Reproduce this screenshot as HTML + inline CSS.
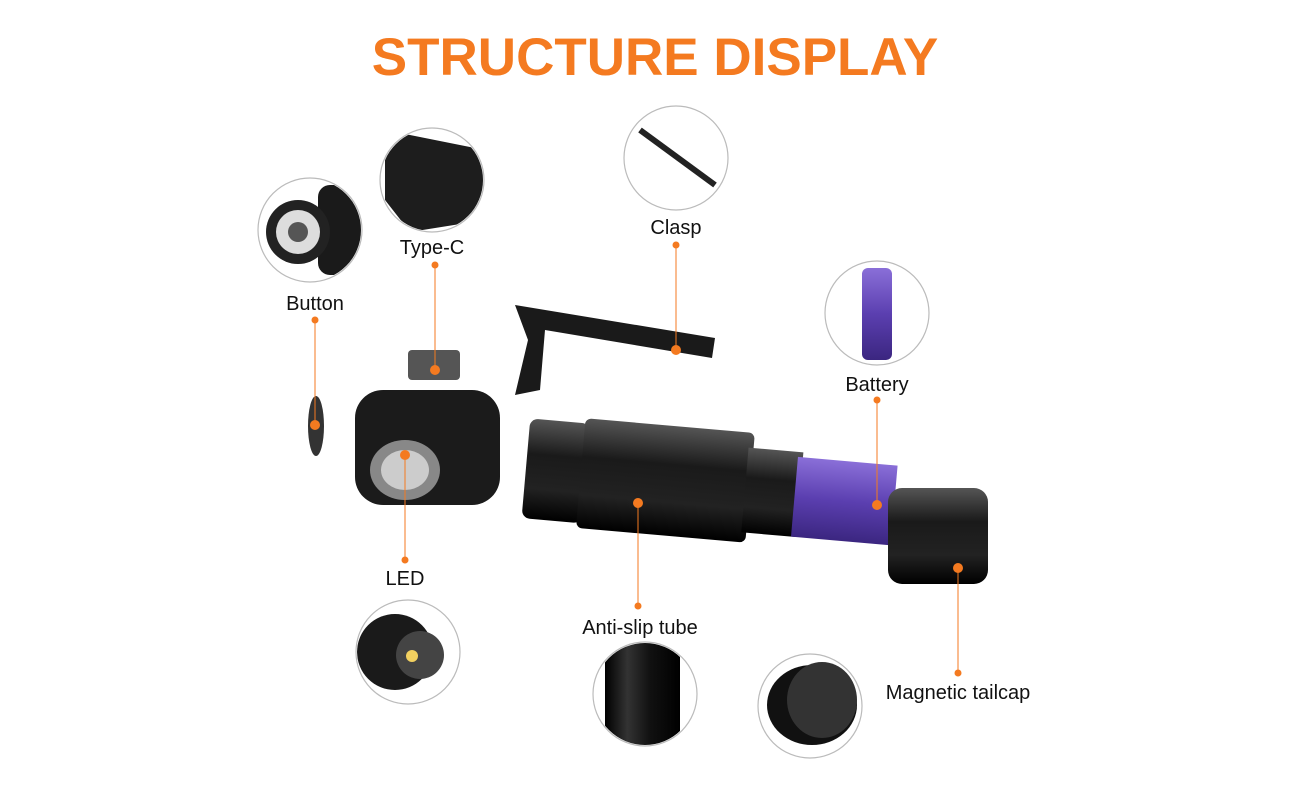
<!DOCTYPE html>
<html><head><meta charset="utf-8"><style>
body{margin:0;background:#fff;width:1306px;height:793px;overflow:hidden;font-family:"Liberation Sans",sans-serif}
</style></head><body>
<svg width="1306" height="793" viewBox="0 0 1306 793" xmlns="http://www.w3.org/2000/svg">
<defs>
<linearGradient id="mt" x1="0" y1="0" x2="0" y2="1"><stop offset="0" stop-color="#555"/><stop offset=".35" stop-color="#1a1a1a"/><stop offset=".7" stop-color="#222"/><stop offset="1" stop-color="#000"/></linearGradient>
<linearGradient id="mh" x1="0" y1="0" x2="1" y2="0"><stop offset="0" stop-color="#000"/><stop offset=".3" stop-color="#333"/><stop offset=".6" stop-color="#111"/><stop offset="1" stop-color="#000"/></linearGradient>
<linearGradient id="bat" x1="0" y1="0" x2="0" y2="1"><stop offset="0" stop-color="#8a6fd8"/><stop offset=".5" stop-color="#5b3fb0"/><stop offset="1" stop-color="#3b2680"/></linearGradient>
<clipPath id="c1"><circle cx="310" cy="230" r="51"/></clipPath>
<clipPath id="c2"><circle cx="432" cy="180" r="51"/></clipPath>
<clipPath id="c3"><circle cx="676" cy="158" r="51"/></clipPath>
<clipPath id="c4"><circle cx="877" cy="313" r="51"/></clipPath>
<clipPath id="c5"><circle cx="408" cy="652" r="51"/></clipPath>
<clipPath id="c6"><circle cx="645" cy="694" r="51"/></clipPath>
<clipPath id="c7"><circle cx="810" cy="706" r="51"/></clipPath>
</defs>
<text x="655" y="75" text-anchor="middle" font-family="Liberation Sans" font-weight="bold" font-size="53" fill="#f47a20">STRUCTURE DISPLAY</text>

<g fill="#fff" stroke="#bbb" stroke-width="1.2">
<circle cx="310" cy="230" r="52"/><circle cx="432" cy="180" r="52"/><circle cx="676" cy="158" r="52"/>
<circle cx="877" cy="313" r="52"/><circle cx="408" cy="652" r="52"/><circle cx="645" cy="694" r="52"/><circle cx="810" cy="706" r="52"/>
</g>
<g clip-path="url(#c1)">
<rect x="318" y="185" width="50" height="90" rx="12" fill="#1a1a1a"/>
<circle cx="298" cy="232" r="32" fill="#222"/><circle cx="298" cy="232" r="22" fill="#ddd"/><circle cx="298" cy="232" r="10" fill="#555"/>
</g>
<g clip-path="url(#c2)"><path d="M385 130 L485 150 L485 220 L410 232 L385 200 Z" fill="#1d1d1d"/></g>
<g clip-path="url(#c3)"><path d="M640 130 L715 185" stroke="#222" stroke-width="6" fill="none"/></g>
<g clip-path="url(#c4)"><rect x="862" y="268" width="30" height="92" rx="6" fill="url(#bat)"/></g>
<g clip-path="url(#c5)"><circle cx="395" cy="652" r="38" fill="#1a1a1a"/><circle cx="420" cy="655" r="24" fill="#444"/><circle cx="412" cy="656" r="6" fill="#f2d060"/></g>
<g clip-path="url(#c6)"><rect x="605" y="640" width="75" height="110" fill="url(#mh)"/></g>
<g clip-path="url(#c7)"><ellipse cx="812" cy="705" rx="45" ry="40" fill="#111"/><ellipse cx="822" cy="700" rx="35" ry="38" fill="#333"/></g>

<path d="M515 305 L715 338 L712 358 L545 330 L540 390 L515 395 L528 340 Z" fill="#1a1a1a"/>
<rect x="408" y="350" width="52" height="30" rx="4" fill="#555"/>
<ellipse cx="316" cy="426" rx="8" ry="30" fill="#333"/>
<rect x="355" y="390" width="145" height="115" rx="28" fill="#1b1b1b"/>
<ellipse cx="405" cy="470" rx="35" ry="30" fill="#888"/><ellipse cx="405" cy="470" rx="24" ry="20" fill="#ccc"/>
<g transform="rotate(5 660 485)">
<rect x="525" y="430" width="60" height="100" rx="8" fill="url(#mt)"/>
<rect x="580" y="425" width="170" height="110" rx="6" fill="url(#mt)"/>
<rect x="745" y="440" width="55" height="85" fill="url(#mt)"/>
<rect x="795" y="445" width="100" height="80" fill="url(#bat)"/>
</g>
<rect x="888" y="488" width="100" height="96" rx="14" fill="url(#mt)"/>

<g stroke="#f47a20" stroke-width="1" fill="none">
<line x1="315" y1="320" x2="315" y2="425"/>
<line x1="435" y1="265" x2="435" y2="370"/>
<line x1="676" y1="245" x2="676" y2="350"/>
<line x1="877" y1="400" x2="877" y2="505"/>
<line x1="405" y1="455" x2="405" y2="560"/>
<line x1="638" y1="503" x2="638" y2="606"/>
<line x1="958" y1="568" x2="958" y2="673"/>
</g>
<g fill="#f47a20">
<circle cx="315" cy="320" r="3.5"/><circle cx="315" cy="425" r="5"/>
<circle cx="435" cy="265" r="3.5"/><circle cx="435" cy="370" r="5"/>
<circle cx="676" cy="245" r="3.5"/><circle cx="676" cy="350" r="5"/>
<circle cx="877" cy="400" r="3.5"/><circle cx="877" cy="505" r="5"/>
<circle cx="405" cy="455" r="5"/><circle cx="405" cy="560" r="3.5"/>
<circle cx="638" cy="503" r="5"/><circle cx="638" cy="606" r="3.5"/>
<circle cx="958" cy="568" r="5"/><circle cx="958" cy="673" r="3.5"/>
</g>

<g font-family="Liberation Sans" font-size="20" fill="#111" text-anchor="middle">
<text x="315" y="310">Button</text>
<text x="432" y="254">Type-C</text>
<text x="676" y="234">Clasp</text>
<text x="877" y="391">Battery</text>
<text x="405" y="585">LED</text>
<text x="640" y="634">Anti-slip tube</text>
<text x="958" y="699">Magnetic tailcap</text>
</g>
</svg>
</body></html>
